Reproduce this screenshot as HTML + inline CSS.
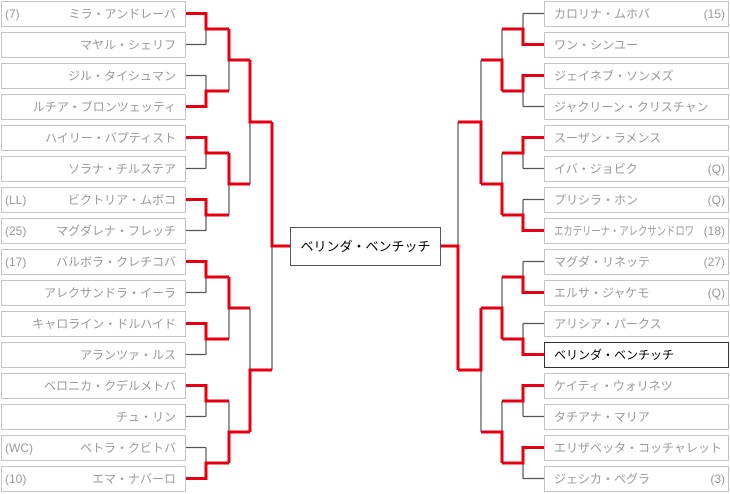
<!DOCTYPE html>
<html><head><meta charset="utf-8"><style>
html,body{margin:0;padding:0;background:#fff;}
svg{display:block;font-family:"Liberation Sans","Noto Sans CJK JP",sans-serif;}
.b{fill:#fff;stroke:#c4c4c4;stroke-width:1}
.t{fill:#9a9a9a;font-size:12px}
.d{fill:none;stroke:#555;stroke-width:1.2}
.r{fill:none;stroke:#e60012;stroke-width:3;stroke-linejoin:miter}
</style></head><body>
<svg width="730" height="494" viewBox="0 0 730 494" xmlns="http://www.w3.org/2000/svg">
<!-- dark lines -->
<g class="d">
<path d="M186,44.5H206M186,75.5H206M186,168.5H206M186,230.5H206M186,292.5H206M186,354.5H206M186,416.5H206M186,447.5H206"/>
<path d="M206,13.5V44.5M206,75.5V106.5M206,137.5V168.5M206,199.5V230.5M206,261.5V292.5M206,323.5V354.5M206,385.5V416.5M206,447.5V478.5"/>
<path d="M229,29V91M229,153V215M229,277V339M229,401V463M250,60V184M250,308V432M272,122V370"/>
<path d="M523,13.5H544M523,106.5H544M523,168.5H544M523,199.5H544M523,261.5H544M523,323.5H544M523,416.5H544M523,478.5H544"/>
<path d="M523,13.5V44.5M523,75.5V106.5M523,137.5V168.5M523,199.5V230.5M523,261.5V292.5M523,323.5V354.5M523,385.5V416.5M523,447.5V478.5"/>
<path d="M502,29V91M502,153V215M502,277V339M502,401V463M481,60V184M481,308V432M458,122V370"/>
</g>
<!-- red lines -->
<g class="r">
<path d="M186,13.5H206V29H229"/>
<path d="M186,106.5H206V91H229"/>
<path d="M186,137.5H206V153H229"/>
<path d="M186,199.5H206V215H229"/>
<path d="M186,261.5H206V277H229"/>
<path d="M186,323.5H206V339H229"/>
<path d="M186,385.5H206V401H229"/>
<path d="M186,478.5H206V463H229"/>
<path d="M229,29V60H250"/>
<path d="M229,153V184H250"/>
<path d="M229,277V308H250"/>
<path d="M229,463V432H250"/>
<path d="M250,60V122H272"/>
<path d="M250,432V370H272"/>
<path d="M272,122V246H290"/>
<path d="M544,44.5H523V29H502"/>
<path d="M544,75.5H523V91H502"/>
<path d="M544,137.5H523V153H502"/>
<path d="M544,230.5H523V215H502"/>
<path d="M544,292.5H523V277H502"/>
<path d="M544,354.5H523V339H502"/>
<path d="M544,385.5H523V401H502"/>
<path d="M544,447.5H523V463H502"/>
<path d="M502,91V60H481"/>
<path d="M502,215V184H481"/>
<path d="M502,339V308H481"/>
<path d="M502,463V432H481"/>
<path d="M481,184V122H458"/>
<path d="M481,308V370H458"/>
<path d="M458,370V246H440"/>
</g>
<!-- left boxes -->
<g>
<rect class="b" x="1.5" y="1.5" width="184" height="25"/>
<rect class="b" x="1.5" y="32.5" width="184" height="25"/>
<rect class="b" x="1.5" y="63.5" width="184" height="25"/>
<rect class="b" x="1.5" y="94.5" width="184" height="25"/>
<rect class="b" x="1.5" y="125.5" width="184" height="25"/>
<rect class="b" x="1.5" y="156.5" width="184" height="25"/>
<rect class="b" x="1.5" y="187.5" width="184" height="25"/>
<rect class="b" x="1.5" y="218.5" width="184" height="25"/>
<rect class="b" x="1.5" y="249.5" width="184" height="25"/>
<rect class="b" x="1.5" y="280.5" width="184" height="25"/>
<rect class="b" x="1.5" y="311.5" width="184" height="25"/>
<rect class="b" x="1.5" y="342.5" width="184" height="25"/>
<rect class="b" x="1.5" y="373.5" width="184" height="25"/>
<rect class="b" x="1.5" y="404.5" width="184" height="25"/>
<rect class="b" x="1.5" y="435.5" width="184" height="25"/>
<rect class="b" x="1.5" y="466.5" width="184" height="25"/>
</g>
<g class="t" text-anchor="end">
<text x="176" y="18">ミラ・アンドレーバ</text>
<text x="176" y="49">マヤル・シェリフ</text>
<text x="176" y="80">ジル・タイシュマン</text>
<text x="176" y="111">ルチア・ブロンツェッティ</text>
<text x="176" y="142">ハイリー・バプティスト</text>
<text x="176" y="173">ソラナ・チルステア</text>
<text x="176" y="204">ビクトリア・ムボコ</text>
<text x="176" y="235">マグダレナ・フレッチ</text>
<text x="176" y="266">バルボラ・クレチコバ</text>
<text x="176" y="297">アレクサンドラ・イーラ</text>
<text x="176" y="328">キャロライン・ドルハイド</text>
<text x="176" y="359">アランツァ・ルス</text>
<text x="176" y="390">ベロニカ・クデルメトバ</text>
<text x="176" y="421">チュ・リン</text>
<text x="176" y="452">ペトラ・クビトバ</text>
<text x="176" y="483">エマ・ナバーロ</text>
</g>
<g class="t">
<text x="5" y="18">(7)</text>
<text x="5" y="204">(LL)</text>
<text x="5" y="235">(25)</text>
<text x="5" y="266">(17)</text>
<text x="5" y="452">(WC)</text>
<text x="5" y="483">(10)</text>
</g>
<!-- right boxes -->
<g>
<rect class="b" x="544.5" y="1.5" width="184" height="25"/>
<rect class="b" x="544.5" y="32.5" width="184" height="25"/>
<rect class="b" x="544.5" y="63.5" width="184" height="25"/>
<rect class="b" x="544.5" y="94.5" width="184" height="25"/>
<rect class="b" x="544.5" y="125.5" width="184" height="25"/>
<rect class="b" x="544.5" y="156.5" width="184" height="25"/>
<rect class="b" x="544.5" y="187.5" width="184" height="25"/>
<rect class="b" x="544.5" y="218.5" width="184" height="25"/>
<rect class="b" x="544.5" y="249.5" width="184" height="25"/>
<rect class="b" x="544.5" y="280.5" width="184" height="25"/>
<rect class="b" x="544.5" y="311.5" width="184" height="25"/>
<rect x="544.5" y="342.5" width="184" height="25" fill="#fff" stroke="#333" stroke-width="1"/>
<rect class="b" x="544.5" y="373.5" width="184" height="25"/>
<rect class="b" x="544.5" y="404.5" width="184" height="25"/>
<rect class="b" x="544.5" y="435.5" width="184" height="25"/>
<rect class="b" x="544.5" y="466.5" width="184" height="25"/>
</g>
<g class="t">
<text x="554" y="18">カロリナ・ムホバ</text>
<text x="554" y="49">ワン・シンユー</text>
<text x="554" y="80">ジェイネブ・ソンメズ</text>
<text x="554" y="111">ジャクリーン・クリスチャン</text>
<text x="554" y="142">スーザン・ラメンス</text>
<text x="554" y="173">イバ・ジョビク</text>
<text x="554" y="204">プリシラ・ホン</text>
<text x="554" y="235" textLength="140" lengthAdjust="spacingAndGlyphs">エカテリーナ・アレクサンドロワ</text>
<text x="554" y="266">マグダ・リネッテ</text>
<text x="554" y="297">エルサ・ジャケモ</text>
<text x="554" y="328">アリシア・パークス</text>
<text x="554" y="359" fill="#000">ベリンダ・ベンチッチ</text>
<text x="554" y="390">ケイティ・ウォリネツ</text>
<text x="554" y="421">タチアナ・マリア</text>
<text x="554" y="452">エリザベッタ・コッチャレット</text>
<text x="554" y="483">ジェシカ・ペグラ</text>
</g>
<g class="t" text-anchor="end">
<text x="725" y="18">(15)</text>
<text x="725" y="173">(Q)</text>
<text x="725" y="204">(Q)</text>
<text x="725" y="235">(18)</text>
<text x="725" y="266">(27)</text>
<text x="725" y="297">(Q)</text>
<text x="725" y="483">(3)</text>
</g>
<!-- center -->
<rect x="290.5" y="227.5" width="150" height="38" fill="#fff" stroke="#555" stroke-width="1"/>
<text x="365.5" y="251" text-anchor="middle" font-size="13" fill="#000">ベリンダ・ベンチッチ</text>
</svg>
</body></html>
